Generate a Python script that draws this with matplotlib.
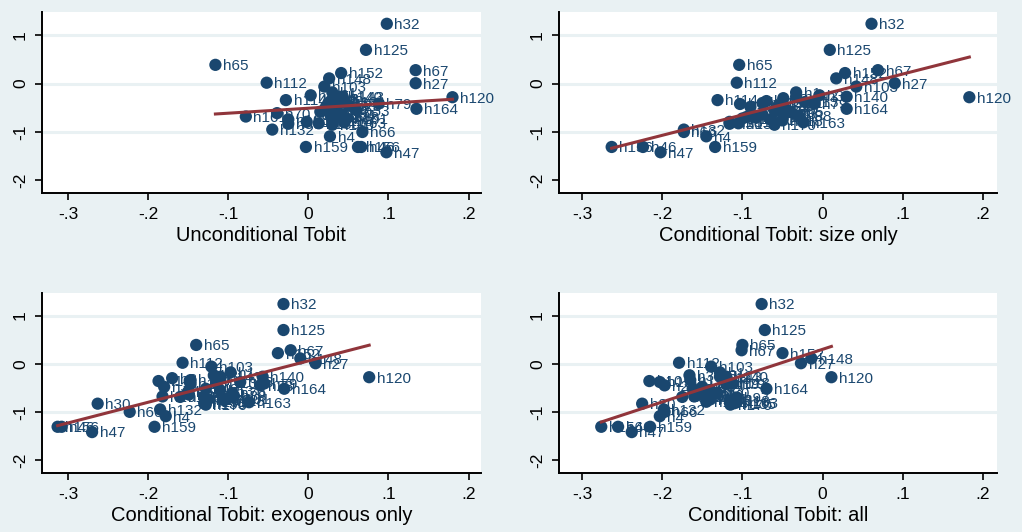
import numpy as np
import matplotlib.pyplot as plt

plt.rcParams['font.family'] = ['Liberation Sans', 'DejaVu Sans']

# observation labels and the common outcome (vertical axis)
labels = ['h32', 'h125', 'h65', 'h67', 'h152', 'h148', 'h27', 'h112', 'h103', 'h120',
          'h140', 'h164', 'h114', 'h163', 'h66', 'h132', 'h4', 'h159', 'h156', 'h46',
          'h47', 'h30', 'h161',
          'h1', 'h3', 'h8', 'h10', 'h13', 'h19', 'h23', 'h35', 'h49', 'h53', 'h55',
          'h70', 'h79', 'h84', 'h88', 'h97', 'h101', 'h108', 'h113', 'h118', 'h131',
          'h135', 'h138', 'h143', 'h170']

outcome = [1.24, 0.70, 0.39, 0.28, 0.22, 0.11, 0.01, 0.02, -0.06, -0.28,
           -0.27, -0.52, -0.34, -0.80, -1.00, -0.95, -1.09, -1.31, -1.31, -1.31,
           -1.42, -0.83, -0.68,
           -0.18, -0.24, -0.30, -0.36, -0.38, -0.42, -0.45, -0.48, -0.52, -0.55, -0.58,
           -0.61, -0.41, -0.64, -0.66, -0.70, -0.72, -0.74, -0.40, -0.76, -0.79,
           -0.82, -0.69, -0.27, -0.85]

# predicted values from the four specifications
uncond = [0.098, 0.072, -0.116, 0.134, 0.041, 0.026, 0.134, -0.052, 0.020, 0.180,
          0.040, 0.135, -0.028, 0.045, 0.0675, -0.045, 0.027, -0.003, 0.062, 0.066,
          0.0975, -0.025, -0.078,
          0.030, 0.003, 0.033, 0.028, 0.045, 0.038, 0.050, 0.022, 0.035, 0.060, 0.015,
          -0.039, 0.088, 0.042, 0.028, 0.032, 0.048, -0.025, 0.025, 0.030, -0.002,
          0.013, 0.036, 0.043, 0.030]

size_only = [0.061, 0.009, -0.104, 0.069, 0.028, 0.017, 0.090, -0.107, 0.042, 0.183,
             0.030, 0.030, -0.131, -0.024, -0.173, -0.173, -0.145, -0.134, -0.263, -0.224,
             -0.202, -0.116, -0.083,
             -0.033, -0.004, -0.049, -0.070, -0.022, -0.103, -0.055, -0.090, -0.047, -0.060, -0.040,
             -0.049, -0.010, -0.075, -0.030, -0.083, -0.100, -0.065, -0.075, -0.050, -0.116,
             -0.105, -0.095, -0.033, -0.060]

exog_only = [-0.031, -0.031, -0.140, -0.022, -0.038, -0.010, 0.009, -0.157, -0.121, 0.076,
             -0.057, -0.030, -0.147, -0.074, -0.223, -0.185, -0.178, -0.192, -0.313, -0.308,
             -0.270, -0.263, -0.182,
             -0.097, -0.118, -0.170, -0.187, -0.085, -0.147, -0.060, -0.180, -0.128, -0.110, -0.150,
             -0.095, -0.055, -0.149, -0.093, -0.130, -0.100, -0.125, -0.115, -0.105, -0.128,
             -0.130, -0.160, -0.110, -0.128]

all_vars = [-0.076, -0.072, -0.100, -0.101, -0.050, -0.014, -0.027, -0.179, -0.139, 0.011,
            -0.120, -0.070, -0.165, -0.107, -0.197, -0.198, -0.203, -0.215, -0.276, -0.255,
            -0.238, -0.225, -0.160,
            -0.128, -0.166, -0.120, -0.216, -0.203, -0.120, -0.197, -0.150, -0.162, -0.140, -0.150,
            -0.132, -0.112, -0.153, -0.157, -0.107, -0.145, -0.140, -0.116, -0.116, -0.145,
            -0.110, -0.175, -0.128, -0.115]

titles = ['Unconditional Tobit', 'Conditional Tobit: size only',
          'Conditional Tobit: exogenous only', 'Conditional Tobit: all']

xticks = [-0.3, -0.2, -0.1, 0, 0.1, 0.2]
xticklabels = ['-.3', '-.2', '-.1', '0', '.1', '.2']
yticks = [-2, -1, 0, 1]
yticklabels = ['-2', '-1', '0', '1']

bg = '#E9F1F3'
navy = '#1A476F'
maroon = '#90353B'

W, H = 1022, 532
fig = plt.figure(figsize=(W / 100, H / 100), dpi=100, facecolor=bg)

# panel boxes in pixels: left, top, right, bottom
boxes = [(42, 12, 481, 193), (559, 12, 997, 193),
         (42, 293, 481, 473), (559, 293, 997, 473)]
xlims = [(-0.3325, 0.2156), (-0.3287, 0.2175), (-0.3325, 0.2156), (-0.3287, 0.2175)]
ylims = [(-2.263, 1.484), (-2.263, 1.484), (-2.27, 1.469), (-2.27, 1.469)]

y = np.array(outcome)
for k, xs in enumerate([uncond, size_only, exog_only, all_vars]):
    l, t, r, b = boxes[k]
    ax = fig.add_axes([l / W, 1 - b / H, (r - l) / W, (b - t) / H])
    ax.set_facecolor('white')
    x = np.array(xs)

    for gy in [-1, 0, 1]:
        ax.axhline(gy, color=bg, lw=2.2, zorder=0)

    ax.scatter(x, y, s=78, color=navy, edgecolors='none', zorder=2)
    for xi, yi, lab in zip(x, y, labels):
        ax.annotate(lab, (xi, yi), xytext=(5.5, -1), textcoords='offset points',
                    ha='left', va='center', fontsize=11, color=navy, zorder=2)

    # linear fit over the range of the data
    slope, icpt = np.polyfit(x, y, 1)
    xf = np.array([x.min(), x.max()])
    ax.plot(xf, icpt + slope * xf, color=maroon, lw=2.2, zorder=3)

    ax.set_xlim(*xlims[k])
    ax.set_ylim(*ylims[k])
    ax.set_xticks(xticks)
    ax.set_xticklabels(xticklabels, fontsize=12.5)
    ax.set_yticks(yticks)
    ax.set_yticklabels(yticklabels, fontsize=12.5, rotation=90, va='center')
    ax.tick_params(length=5, width=1.2, color='black', pad=5)
    for side in ['top', 'right']:
        ax.spines[side].set_visible(False)
    for side in ['left', 'bottom']:
        ax.spines[side].set_linewidth(1.4)
    ax.set_xlabel(titles[k], fontsize=14.5, labelpad=3)

fig.savefig('out.png', dpi=100, facecolor=bg)
